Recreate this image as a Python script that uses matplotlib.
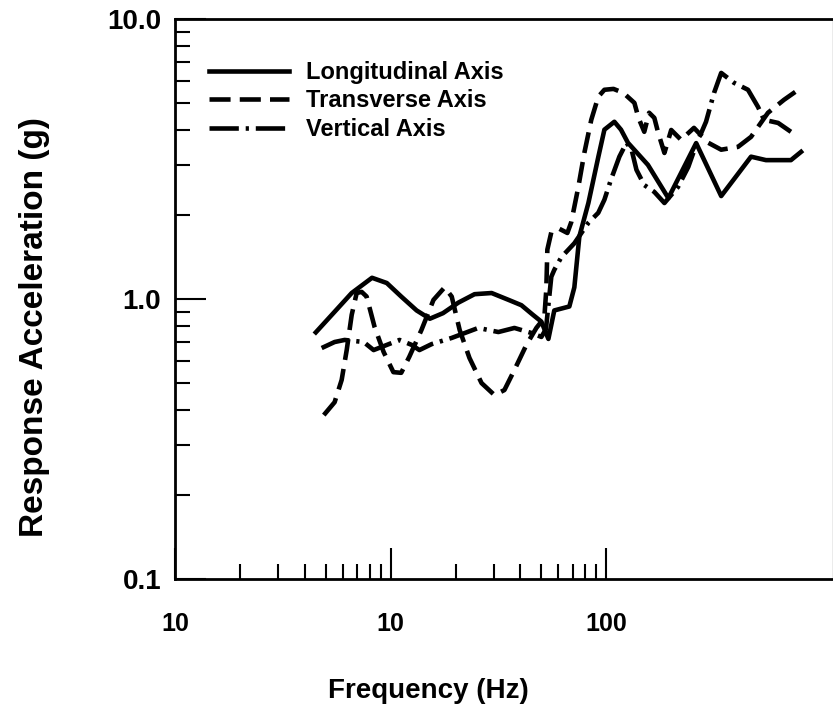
import matplotlib
matplotlib.use("Agg")
import matplotlib.pyplot as plt
from matplotlib.ticker import FixedLocator, NullFormatter

# Values (log-log axes)

long_freq = [4.5, 5.5, 6.6, 8.2, 9.6, 11.2, 13.2, 15.2, 17.5, 20.6, 24.5, 29.4, 35.5, 40.4, 45.5, 50.0,
             53.9, 57.4, 67.4, 71.1, 75.0, 82.6, 91.9, 98, 109, 117, 126, 156, 194, 261, 341, 469, 550, 718, 800]
long_acc = [0.76, 0.90, 1.05, 1.19, 1.14, 1.02, 0.91, 0.85, 0.89, 0.97, 1.04, 1.05, 0.99, 0.95, 0.88, 0.83,
            0.72, 0.91, 0.94, 1.10, 1.67, 2.20, 3.22, 4.02, 4.29, 4.02, 3.61, 3.01, 2.29, 3.6, 2.33, 3.22, 3.13, 3.13, 3.35]

trans_freq = [4.9, 5.5, 5.93, 6.26, 6.6, 6.96, 7.34, 7.74, 8.43, 9.28, 10.3, 11.2, 12.2, 13.9, 15.8, 17.8,
              19.2, 20.9, 23.2, 26.4, 30.3, 33.7, 37.5, 42.6, 47.4, 51.6, 52.7, 53.3, 55.6, 60.6, 66.0, 68.8,
              74.2, 79.1, 85.2, 91.8, 98, 108, 120, 135, 141, 150, 158, 167, 174, 186, 200, 222, 255, 297,
              341, 408, 469, 562, 667, 800]
trans_acc = [0.385, 0.428, 0.514, 0.658, 0.877, 1.05, 1.06, 1.02, 0.794, 0.647, 0.548, 0.545, 0.621, 0.775,
             0.992, 1.10, 1.02, 0.775, 0.616, 0.501, 0.454, 0.473, 0.558, 0.685, 0.788, 0.856, 1.08, 1.50,
             1.73, 1.78, 1.72, 1.88, 2.51, 3.32, 4.36, 5.27, 5.58, 5.62, 5.44, 5.01, 4.43, 3.95, 4.62, 4.43,
             3.92, 3.32, 4.01, 3.70, 4.08, 3.61, 3.41, 3.49, 3.79, 4.62, 5.14, 5.67]

vert_freq = [4.79, 5.5, 6.12, 7.5, 8.34, 11.0, 12.5, 13.6, 15.5, 19.2, 25.5, 31.6, 37.5, 45.0, 50.0, 52.5,
             55.6, 57.4, 61.9, 71.1, 82.6, 91.8, 98.0, 105, 115, 124, 131, 138, 150, 167, 186, 215, 240,
             261, 290, 316, 341, 391, 454, 505, 539, 626, 718]
vert_acc = [0.668, 0.702, 0.714, 0.702, 0.657, 0.714, 0.686, 0.657, 0.690, 0.726, 0.788, 0.762, 0.788,
            0.756, 0.732, 0.78, 1.20, 1.27, 1.41, 1.58, 1.87, 2.03, 2.26, 2.66, 3.22, 3.61, 3.41, 2.89, 2.55,
            2.41, 2.20, 2.51, 2.96, 3.55, 4.29, 5.44, 6.41, 5.91, 5.58, 4.85, 4.36, 4.25, 3.95]

x_major = [1, 10, 100]
x_major_labels = ["10", "10", "100"]
x_minor = [2, 3, 4, 5, 6, 7, 8, 9, 20, 30, 40, 50, 60, 70, 80, 90]
y_major = [0.1, 1, 10]
y_major_labels = ["0.1", "1.0", "10.0"]
y_minor = [0.2, 0.3, 0.4, 0.5, 0.6, 0.7, 0.8, 0.9, 2, 3, 4, 5, 6, 7, 8, 9]

plt.rcParams['font.family'] = ['Liberation Sans', 'DejaVu Sans']
plt.rcParams['font.weight'] = 'bold'

fig = plt.figure(figsize=(8.33, 7.23), dpi=100)
ax = fig.add_axes([0.21, 0.199, 0.79, 0.775])

lw = 3.3
ax.plot(long_freq, long_acc, color='black', lw=lw, label='Longitudinal Axis')
ax.plot(trans_freq, trans_acc, color='black', lw=lw, dashes=(4.6, 2.0), label='Transverse Axis')
ax.plot(vert_freq, vert_acc, color='black', lw=lw, dashes=(6.4, 1.5, 0.7, 1.5), label='Vertical Axis')

ax.set_xscale('log')
ax.set_yscale('log')
ax.set_xlim(1, 1125)
ax.set_ylim(0.1, 10)

ax.xaxis.set_major_locator(FixedLocator(x_major))
ax.xaxis.set_minor_locator(FixedLocator(x_minor))
ax.xaxis.set_minor_formatter(NullFormatter())
ax.set_xticklabels(x_major_labels)
ax.yaxis.set_major_locator(FixedLocator(y_major))
ax.yaxis.set_minor_locator(FixedLocator(y_minor))
ax.yaxis.set_minor_formatter(NullFormatter())
ax.set_yticklabels(y_major_labels)

ax.tick_params(which='both', direction='in', width=1.5, color='black')
ax.tick_params(which='major', length=22)
ax.tick_params(which='minor', length=11)
ax.tick_params(axis='x', which='major', pad=24, labelsize=18)
ax.tick_params(axis='y', which='major', pad=10, labelsize=20)

for side in ['left', 'bottom', 'top']:
    ax.spines[side].set_linewidth(2)
ax.spines['right'].set_linewidth(1)
ax.spines['right'].set_color('0.6')

ax.set_xlabel('Frequency (Hz)', fontsize=20, fontweight='bold')
ax.set_ylabel('Response Acceleration (g)', fontsize=24, fontweight='bold')
ax.xaxis.set_label_coords(0.385, -0.177)
ax.yaxis.set_label_coords(-0.19, 0.45)

ax.legend(loc='upper left', bbox_to_anchor=(0.052, 0.925), frameon=False, fontsize=17,
          handlelength=3.4, handletextpad=0.7, labelspacing=0.24, borderpad=0, borderaxespad=0)

plt.savefig('out.png', dpi=100)
